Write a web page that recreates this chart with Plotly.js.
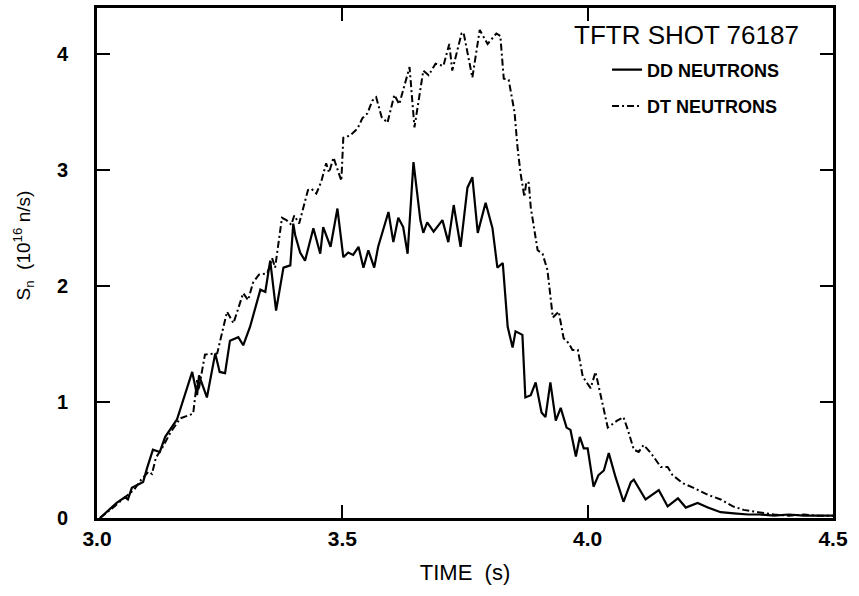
<!DOCTYPE html>
<html>
<head>
<meta charset="utf-8">
<script src="https://cdn.plot.ly/plotly-3.0.1.min.js"></script>
<style>html,body{margin:0;padding:0;background:#fff;}#chart{width:859px;height:596px;}</style>
</head>
<body>
<div id="chart"></div>
<script>
// Time (s) and source strength (10^16 n/s)
const ddTime = [3.006,3.02,3.04,3.057,3.063,3.071,3.094,3.102,3.114,3.128,3.139,3.163,3.194,3.204,3.208,3.224,3.241,3.25,3.261,3.271,3.288,3.298,3.312,3.333,3.343,3.353,3.365,3.380,3.394,3.400,3.404,3.414,3.424,3.441,3.455,3.461,3.476,3.490,3.502,3.512,3.522,3.533,3.543,3.553,3.565,3.573,3.594,3.604,3.614,3.624,3.633,3.645,3.659,3.665,3.673,3.686,3.704,3.716,3.727,3.741,3.755,3.765,3.776,3.792,3.806,3.816,3.827,3.837,3.847,3.853,3.867,3.873,3.884,3.894,3.906,3.914,3.924,3.935,3.945,3.957,3.965,3.976,3.984,3.992,4.000,4.012,4.022,4.033,4.043,4.057,4.073,4.088,4.094,4.118,4.145,4.163,4.184,4.200,4.224,4.245,4.271,4.298,4.327,4.35,4.38,4.41,4.44,4.47,4.50];
const ddValues = [0,0.05,0.13,0.18,0.16,0.26,0.31,0.43,0.59,0.57,0.70,0.85,1.26,1.06,1.23,1.04,1.42,1.26,1.25,1.53,1.56,1.49,1.65,1.97,1.95,2.22,1.79,2.16,2.18,2.54,2.44,2.29,2.22,2.50,2.28,2.51,2.34,2.67,2.25,2.29,2.27,2.34,2.16,2.31,2.16,2.34,2.64,2.38,2.59,2.51,2.28,3.07,2.57,2.46,2.55,2.47,2.57,2.38,2.70,2.34,2.85,2.94,2.46,2.72,2.50,2.16,2.20,1.65,1.47,1.61,1.58,1.04,1.06,1.17,0.91,0.87,1.17,0.84,0.95,0.78,0.76,0.53,0.70,0.60,0.60,0.27,0.37,0.41,0.56,0.35,0.14,0.31,0.33,0.16,0.24,0.10,0.17,0.09,0.13,0.09,0.05,0.04,0.03,0.03,0.02,0.03,0.02,0.02,0.02];

const dtTime = [3.006,3.03,3.06,3.075,3.09,3.105,3.112,3.12,3.135,3.15,3.17,3.196,3.204,3.207,3.22,3.245,3.265,3.278,3.298,3.308,3.318,3.33,3.347,3.357,3.363,3.377,3.386,3.396,3.402,3.412,3.43,3.437,3.447,3.457,3.467,3.473,3.482,3.498,3.502,3.516,3.531,3.541,3.551,3.561,3.569,3.58,3.592,3.606,3.616,3.637,3.647,3.665,3.676,3.690,3.706,3.718,3.724,3.743,3.747,3.765,3.78,3.796,3.814,3.822,3.829,3.839,3.851,3.857,3.863,3.871,3.875,3.88,3.884,3.898,3.908,3.918,3.929,3.941,3.951,3.961,3.969,3.98,3.99,4.006,4.016,4.022,4.031,4.041,4.06,4.073,4.082,4.094,4.104,4.114,4.129,4.149,4.163,4.173,4.194,4.216,4.245,4.271,4.296,4.318,4.347,4.38,4.41,4.44,4.47,4.50];
const dtValues = [0,0.08,0.19,0.24,0.33,0.40,0.38,0.52,0.62,0.74,0.86,0.90,1.19,1.10,1.41,1.42,1.78,1.68,1.94,1.88,2.03,2.10,2.11,2.24,2.16,2.59,2.57,2.53,2.61,2.54,2.83,2.84,2.80,2.90,3.06,2.98,3.11,2.91,3.28,3.30,3.36,3.45,3.49,3.60,3.63,3.46,3.41,3.65,3.57,3.89,3.37,3.86,3.82,3.92,3.90,4.09,3.86,4.18,4.19,3.80,4.21,4.09,4.18,4.16,3.79,3.78,3.50,3.20,2.98,2.77,2.90,2.89,2.68,2.31,2.28,2.14,1.73,1.78,1.55,1.51,1.45,1.45,1.22,1.12,1.26,1.14,0.96,0.78,0.84,0.87,0.76,0.59,0.57,0.63,0.56,0.44,0.44,0.37,0.30,0.26,0.20,0.16,0.10,0.07,0.05,0.03,0.02,0.03,0.02,0.02];

const xTick0 = 3.0, xTickStep = 0.5;
const yTick0 = 0, yTickStep = 1;
const seriesNames = ["DD NEUTRONS", "DT NEUTRONS"];
const shotLabel = "TFTR SHOT 76187";
const xTitle = "TIME  (s)";
const yTitle = "S<sub>n</sub>  (10<sup>16</sup> n/s)";

const FONT = "Liberation Sans, Arial, sans-serif";

const traces = [
  {x: ddTime, y: ddValues, name: seriesNames[0], type: "scatter", mode: "lines",
   legendgroup: "a", line: {color: "#000", width: 2.2}},
  {x: dtTime, y: dtValues, name: seriesNames[1], type: "scatter", mode: "lines",
   legendgroup: "b", line: {color: "#000", width: 2, dash: "7px,3px,2px,3px"}}
];

const layout = {
  width: 859, height: 596,
  margin: {l: 97, r: 26, t: 8, b: 78},
  paper_bgcolor: "#fff", plot_bgcolor: "#fff",
  font: {family: FONT, color: "#000"},
  showlegend: true,
  legend: {x: 0.693, y: 0.915, xanchor: "left", yanchor: "top",
           bgcolor: "rgba(0,0,0,0)", tracegroupgap: 10, traceorder: "grouped",
           font: {family: FONT, size: 18, color: "#000", weight: "bold"}},
  xaxis: {
    range: [3.0, 4.5], tickmode: "linear", tick0: xTick0, dtick: xTickStep, tickformat: ".1f",
    showline: true, mirror: "ticks", linecolor: "#000", linewidth: 2.5,
    ticks: "inside", tickcolor: "#000", tickwidth: 2, ticklen: 13,
    showgrid: false, zeroline: false,
    tickfont: {family: FONT, size: 21, color: "#000", weight: "bold"},
    title: {text: xTitle, font: {family: FONT, size: 22, color: "#000"}, standoff: 16}
  },
  yaxis: {
    range: [0, 4.4], tickmode: "linear", tick0: yTick0, dtick: yTickStep,
    showline: true, mirror: "ticks", linecolor: "#000", linewidth: 2.5,
    ticks: "inside", tickcolor: "#000", tickwidth: 2, ticklen: 13,
    showgrid: false, zeroline: false,
    tickfont: {family: FONT, size: 20, color: "#000", weight: "bold"},
    ticksuffix: "\u00a0\u00a0\u00a0\u00a0"
  },
  annotations: [
    {text: shotLabel, xref: "paper", yref: "paper", x: 0.646, y: 0.947,
     xanchor: "left", yanchor: "middle", showarrow: false,
     font: {family: FONT, size: 26, color: "#000"}},
    {text: yTitle, xref: "paper", yref: "paper", x: -0.1, y: 0.535,
     xanchor: "center", yanchor: "middle", textangle: -90, showarrow: false,
     font: {family: FONT, size: 19, color: "#000"}}
  ]
};

Plotly.newPlot("chart", traces, layout, {displayModeBar: false});
</script>
</body>
</html>
